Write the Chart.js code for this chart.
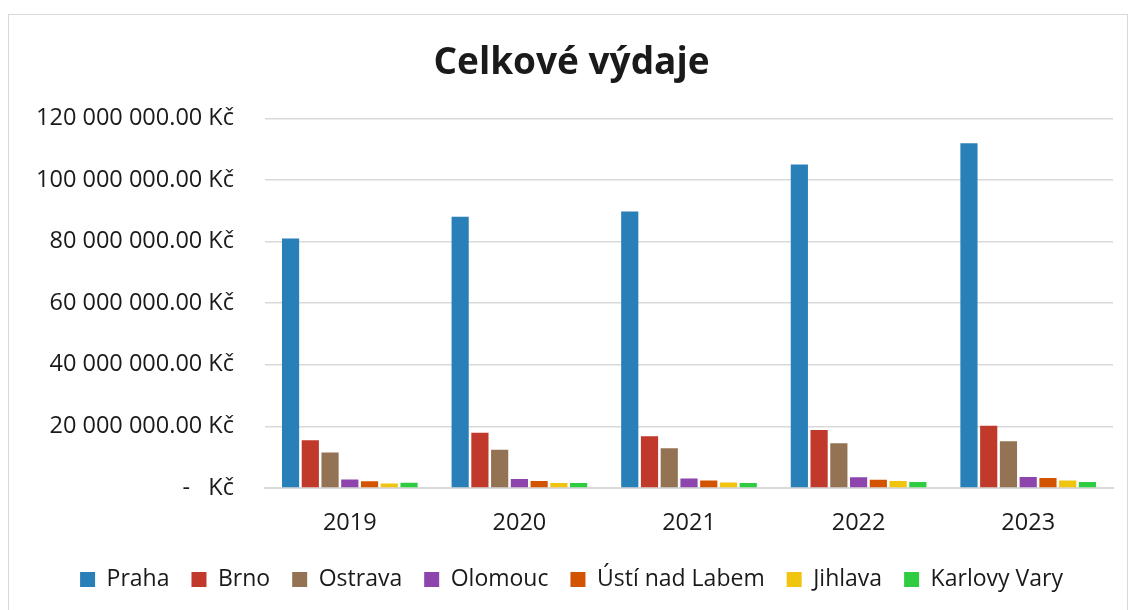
<!DOCTYPE html>
<html>
<head>
<meta charset="utf-8">
<script src="https://cdn.jsdelivr.net/npm/chart.js@4"></script>
<style>
  html, body { margin: 0; padding: 0; background: #fff; }
  #wrap { position: relative; width: 1132px; height: 610px; }
  #frame { position: absolute; left: 8px; top: 14px; width: 1118px; height: 600px;
           border: 1px solid #d9d9d9; pointer-events: none; }
</style>
</head>
<body>
<div id="wrap">
  <canvas id="myChart" width="1132" height="610"></canvas>
  <div id="frame"></div>
</div>
<script>
let years = ['2019', '2020', '2021', '2022', '2023']

let praha = [81000000, 88100000, 89800000, 105000000, 111900000]
let brno = [15500000, 17900000, 16800000, 18800000, 20200000]
let ostrava = [11500000, 12400000, 12900000, 14500000, 15200000]
let olomouc = [2800000, 2900000, 3100000, 3500000, 3600000]
let usti = [2200000, 2300000, 2400000, 2700000, 3250000]
let jihlava = [1500000, 1600000, 1800000, 2300000, 2400000]
let karlovyVary = [1700000, 1600000, 1600000, 1950000, 1950000]

let yTicks = [0, 20000000, 40000000, 60000000, 80000000, 100000000, 120000000]

let font = '"Open Sans", "Noto Sans", sans-serif'
let textColor = '#1a1a1a'

function kc(value) {
    if (value === 0) return '-   Kč'
    let whole = Math.round(value).toString().replace(/\B(?=(\d{3})+(?!\d))/g, ' ')
    return whole + '.00 Kč'
}

function series(label, data, color) {
    return {
        label,
        data,
        backgroundColor: color,
        borderWidth: 0,
        barPercentage: 0.87,
        categoryPercentage: 0.815
    }
}

let ctx = document.getElementById('myChart')
let myChart = new Chart(ctx, {
    type: 'bar',
    data: {
        labels: years,
        datasets: [
            series('Praha', praha, '#2980b9'),
            series('Brno', brno, '#c0392b'),
            series('Ostrava', ostrava, '#937353'),
            series('Olomouc', olomouc, '#8e44ad'),
            series('Ústí nad Labem', usti, '#d35400'),
            series('Jihlava', jihlava, '#f1c40f'),
            series('Karlovy Vary', karlovyVary, '#2ecc40')
        ]
    },
    options: {
        responsive: false,
        animation: false,
        layout: {
            padding: { left: 30, right: 19, top: 18, bottom: 9 }
        },
        plugins: {
            title: {
                display: true,
                text: 'Celkové výdaje',
                color: textColor,
                font: { family: font, size: 37, weight: 'bold' },
                padding: { top: 23, bottom: 33 }
            },
            legend: {
                position: 'bottom',
                labels: {
                    color: textColor,
                    font: { family: font, size: 23 },
                    boxWidth: 15,
                    boxHeight: 15,
                    padding: 22
                }
            },
            tooltip: { enabled: false }
        },
        scales: {
            x: {
                afterFit: axis => {
                    axis.height = 58
                },
                grid: { display: false, drawTicks: false },
                border: { color: '#d9d9d9', width: 2 },
                ticks: {
                    color: textColor,
                    font: { family: font, size: 23.5 },
                    padding: 21
                }
            },
            y: {
                min: 0,
                max: 120000000,
                afterBuildTicks: axis => {
                    axis.ticks = yTicks.map(value => ({ value }))
                },
                afterFit: axis => {
                    axis.width = 235
                },
                grid: { color: '#d9d9d9', lineWidth: 1.5, drawTicks: false },
                border: { display: false },
                ticks: {
                    color: textColor,
                    font: { family: font, size: 23.5 },
                    padding: 31,
                    callback: value => kc(value)
                }
            }
        }
    }
})
</script>
</body>
</html>
